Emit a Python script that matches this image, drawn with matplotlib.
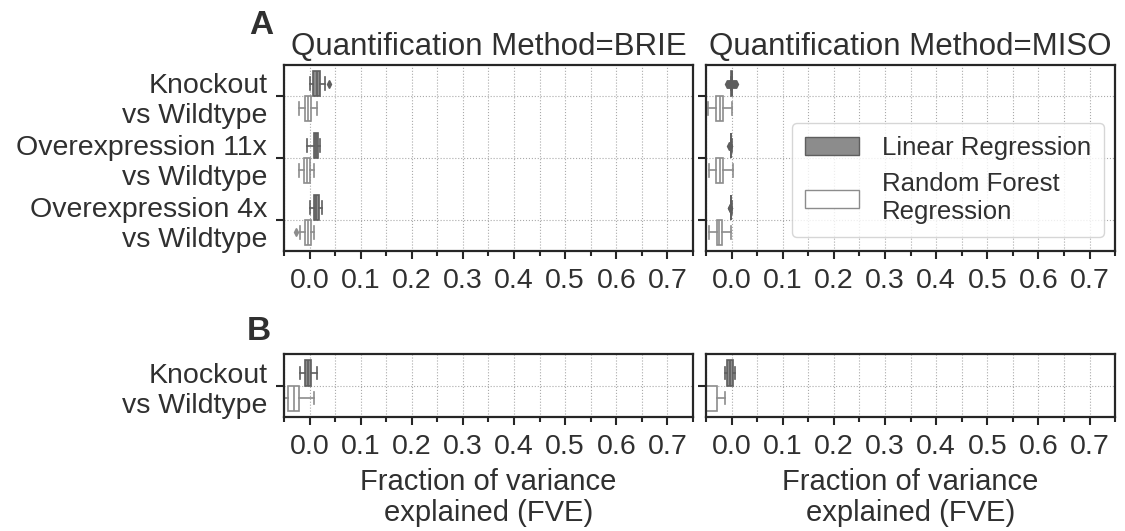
import numpy as np
import matplotlib
matplotlib.use("Agg")
import matplotlib.pyplot as plt
from matplotlib.patches import Patch
from matplotlib.ticker import MultipleLocator

plt.rcParams['font.family'] = ['Liberation Sans', 'DejaVu Sans']
TEXT = '#303030'
FS = 20.5

# Data (box stats): whislo, q1, median, q3, whishi
categories_top = ["Knockout\nvs Wildtype", "Overexpression 11x\nvs Wildtype", "Overexpression 4x\nvs Wildtype"]
categories_bottom = ["Knockout\nvs Wildtype"]
methods = ["BRIE", "MISO"]
models = ["Linear Regression", "Random Forest\nRegression"]

brie_top_lr = [[0.001, 0.007, 0.014, 0.020, 0.030],
               [-0.004, 0.008, 0.012, 0.016, 0.021],
               [0.000, 0.009, 0.013, 0.018, 0.025]]
brie_top_lr_fliers = [[0.039], [], []]
brie_top_rf = [[-0.020, -0.009, -0.003, 0.002, 0.015],
               [-0.020, -0.010, -0.005, 0.000, 0.009],
               [-0.018, -0.009, -0.003, 0.002, 0.009]]
brie_top_rf_fliers = [[], [], [-0.026]]

miso_top_lr = [[-0.001, -0.0005, 0.000, 0.0005, 0.001],
               [-0.002, -0.0015, -0.001, -0.0005, 0.000],
               [-0.002, -0.0015, -0.001, -0.0005, 0.000]]
miso_top_lr_fliers = [[-0.010, -0.008, -0.006, -0.004, -0.003, 0.003, 0.005, 0.007, 0.008],
                      [-0.005, -0.004, -0.003],
                      [-0.004, -0.003]]
miso_top_rf = [[-0.047, -0.030, -0.022, -0.016, 0.001],
               [-0.045, -0.030, -0.023, -0.016, 0.002],
               [-0.044, -0.029, -0.024, -0.018, -0.001]]
miso_top_rf_fliers = [[], [], []]

brie_bot_lr = [[-0.019, -0.008, -0.003, 0.002, 0.015]]
brie_bot_lr_fliers = [[]]
brie_bot_rf = [[-0.049, -0.042, -0.031, -0.020, 0.008]]
brie_bot_rf_fliers = [[]]

miso_bot_lr = [[-0.013, -0.009, -0.003, 0.002, 0.007]]
miso_bot_lr_fliers = [[]]
miso_bot_rf = [[-0.075, -0.065, -0.055, -0.029, -0.012]]
miso_bot_rf_fliers = [[]]

LR_FACE, LR_EDGE = '#8c8c8c', '#5e5e5e'
RF_FACE, RF_EDGE = 'white', '#8c8c8c'


def make_stats(rows, fliers):
    out = []
    for r, f in zip(rows, fliers):
        out.append(dict(whislo=r[0], q1=r[1], med=r[2], q3=r[3], whishi=r[4], fliers=f))
    return out


def draw_boxes(ax, rows, fliers, offset, face, edge):
    pos = np.arange(len(rows)) + offset
    ax.bxp(make_stats(rows, fliers), positions=pos, widths=0.4, vert=False,
           patch_artist=True, manage_ticks=False,
           boxprops=dict(facecolor=face, edgecolor=edge, linewidth=1.2),
           medianprops=dict(color=edge, linewidth=1.2),
           whiskerprops=dict(color=edge, linewidth=1.2),
           capprops=dict(color=edge, linewidth=1.2),
           flierprops=dict(marker='d', markersize=4, markerfacecolor=edge,
                           markeredgecolor=edge))


def style_axes(ax, labels, show_labels):
    n = len(labels)
    ax.set_xlim(-0.05, 0.75)
    ax.set_ylim(n - 0.5, -0.5)
    ax.xaxis.set_major_locator(MultipleLocator(0.1))
    ax.xaxis.set_minor_locator(MultipleLocator(0.05))
    ax.set_yticks(range(n))
    if show_labels:
        ax.set_yticklabels(labels, linespacing=1.2)
    else:
        ax.set_yticklabels([])
    ax.grid(which='both', axis='x', linestyle=':', color='#aaaaaa', linewidth=0.8)
    ax.grid(which='major', axis='y', linestyle=':', color='#aaaaaa', linewidth=0.8)
    ax.set_axisbelow(True)
    ax.tick_params(axis='both', which='major', labelsize=FS, length=6, width=1.5,
                   colors='#262626', labelcolor=TEXT, pad=6)
    ax.tick_params(axis='x', which='minor', length=3.5, width=1.5, colors='#262626')
    ax.xaxis.set_major_formatter(matplotlib.ticker.FormatStrFormatter('%.1f'))
    for s in ax.spines.values():
        s.set_linewidth(1.6)
        s.set_color('#262626')


fig = plt.figure(figsize=(11.25, 5.31), dpi=100)

xl, xr, w = 0.2524, 0.6276, 0.3636
ax_tl = fig.add_axes([xl, 0.5273, w, 0.3503])
ax_tr = fig.add_axes([xr, 0.5273, w, 0.3503])
ax_bl = fig.add_axes([xl, 0.2147, w, 0.1186])
ax_br = fig.add_axes([xr, 0.2147, w, 0.1186])

draw_boxes(ax_tl, brie_top_lr, brie_top_lr_fliers, -0.2, LR_FACE, LR_EDGE)
draw_boxes(ax_tl, brie_top_rf, brie_top_rf_fliers, 0.2, RF_FACE, RF_EDGE)
draw_boxes(ax_tr, miso_top_lr, miso_top_lr_fliers, -0.2, LR_FACE, LR_EDGE)
draw_boxes(ax_tr, miso_top_rf, miso_top_rf_fliers, 0.2, RF_FACE, RF_EDGE)
draw_boxes(ax_bl, brie_bot_lr, brie_bot_lr_fliers, -0.2, LR_FACE, LR_EDGE)
draw_boxes(ax_bl, brie_bot_rf, brie_bot_rf_fliers, 0.2, RF_FACE, RF_EDGE)
draw_boxes(ax_br, miso_bot_lr, miso_bot_lr_fliers, -0.2, LR_FACE, LR_EDGE)
draw_boxes(ax_br, miso_bot_rf, miso_bot_rf_fliers, 0.2, RF_FACE, RF_EDGE)

style_axes(ax_tl, categories_top, True)
style_axes(ax_tr, categories_top, False)
style_axes(ax_bl, categories_bottom, True)
style_axes(ax_br, categories_bottom, False)

ax_tl.set_title(f"Quantification Method={methods[0]}", fontsize=22.5, color=TEXT, pad=7)
ax_tr.set_title(f"Quantification Method={methods[1]}", fontsize=22.5, color=TEXT, pad=7)
for ax in (ax_bl, ax_br):
    ax.set_xlabel("Fraction of variance\nexplained (FVE)", fontsize=21, color=TEXT,
                  labelpad=6, linespacing=1.15)

handles = [Patch(facecolor=LR_FACE, edgecolor=LR_EDGE, label=models[0]),
           Patch(facecolor=RF_FACE, edgecolor=RF_EDGE, label=models[1])]
leg = ax_tr.legend(handles=handles, loc='lower right', bbox_to_anchor=(0.973, 0.075),
                   borderaxespad=0, fontsize=18.5, handlelength=2.1, handleheight=0.7,
                   handletextpad=0.9, labelspacing=0.5, borderpad=0.5, frameon=True,
                   fancybox=True, labelcolor=TEXT)
leg.get_frame().set_edgecolor('#cccccc')

fig.text(261 / 1125, 1 - 26 / 531, "A", fontsize=24, fontweight='bold', color=TEXT,
         ha='center', va='center')
fig.text(259 / 1125, 1 - 331 / 531, "B", fontsize=24, fontweight='bold', color=TEXT,
         ha='center', va='center')

fig.savefig("out.png", dpi=100)
